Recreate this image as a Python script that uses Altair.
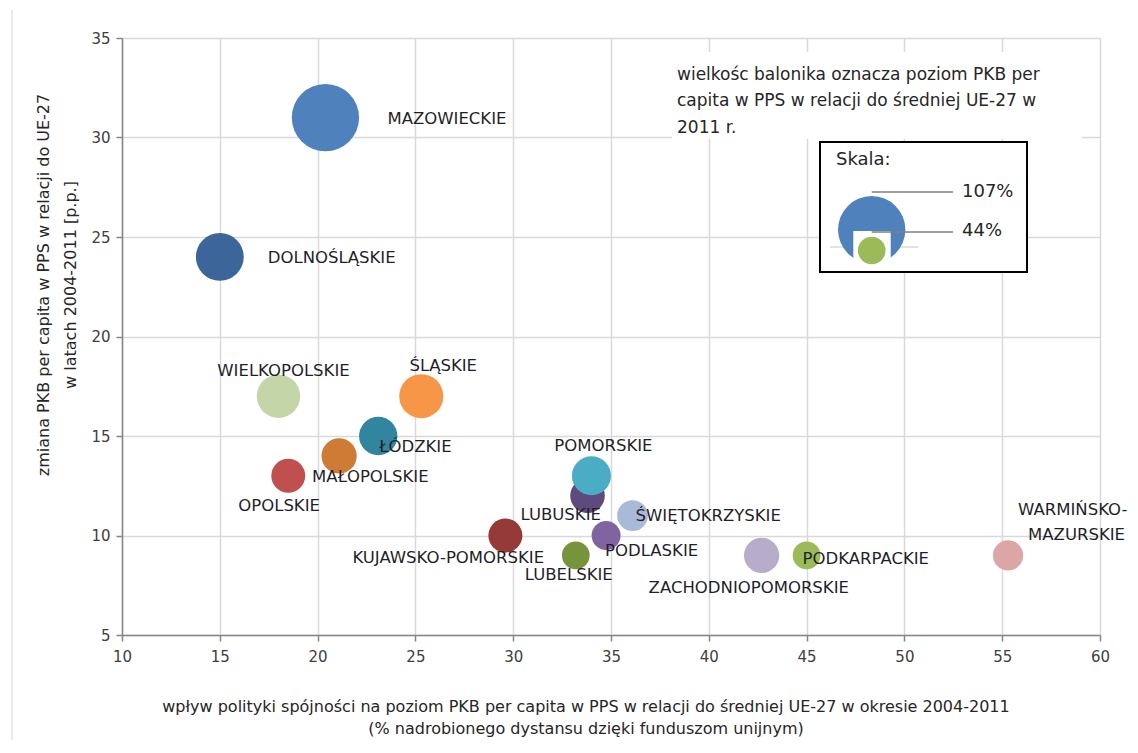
import math
import altair as alt
import pandas as pd

# ---------------- data ----------------
regions = ["MAZOWIECKIE", "DOLNOŚLĄSKIE", "WIELKOPOLSKIE", "ŚLĄSKIE", "ŁÓDZKIE",
           "MAŁOPOLSKIE", "OPOLSKIE", "KUJAWSKO-POMORSKIE", "LUBUSKIE", "POMORSKIE",
           "ŚWIĘTOKRZYSKIE", "PODLASKIE", "LUBELSKIE", "ZACHODNIOPOMORSKIE",
           "PODKARPACKIE", "WARMIŃSKO-MAZURSKIE"]
impact = [20.4, 15.0, 18.0, 25.3, 23.1, 21.1, 18.5, 29.6, 33.8, 34.0,
          36.1, 34.75, 33.2, 42.7, 45.0, 55.3]
change = [31, 24, 17, 17, 15, 14, 13, 10, 12, 13, 11, 10, 9, 9, 9, 9]
gdp = [107, 76, 69, 70, 61, 56, 54, 54, 55, 62, 49, 46, 44, 56, 44, 48]

x_ticks = [10, 15, 20, 25, 30, 35, 40, 45, 50, 55, 60]
y_ticks = [5, 10, 15, 20, 25, 30, 35]
scale_values = [107, 44]

note_lines = ["wielkośc balonika oznacza poziom PKB per",
              "capita w PPS w relacji do średniej  UE-27 w",
              "2011 r."]
y_title = ["zmiana PKB per capita w PPS w relacji do UE-27",
           "w latach 2004-2011 [p.p.]"]
x_title = ["wpływ polityki spójności na poziom PKB per capita w PPS w relacji do średniej UE-27 w okresie 2004-2011",
           "(% nadrobionego dystansu dzięki funduszom unijnym)"]

# ---------------- styles ----------------
colors = ["#4F81BD", "#3C6599", "#C4D6A8", "#F79646", "#31859C",
          "#CD7B35", "#C0504D", "#953A38", "#5F4A7E", "#4BACC6",
          "#A9BAD8", "#8064A2", "#77933C", "#B7ADCA", "#9BBB59", "#DBA6A5"]

# (region, text, align, dx, dy)
label_style = [
    ("MAZOWIECKIE", "MAZOWIECKIE", "left", 62, 1),
    ("DOLNOŚLĄSKIE", "DOLNOŚLĄSKIE", "left", 48, 1),
    ("WIELKOPOLSKIE", "WIELKOPOLSKIE", "center", 5, -25),
    ("ŚLĄSKIE", "ŚLĄSKIE", "center", 22, -30),
    ("ŁÓDZKIE", "ŁÓDZKIE", "left", 1, 11),
    ("MAŁOPOLSKIE", "MAŁOPOLSKIE", "left", -27, 21),
    ("OPOLSKIE", "OPOLSKIE", "left", -50, 30),
    ("KUJAWSKO-POMORSKIE", "KUJAWSKO-POMORSKIE", "left", -153, 22),
    ("LUBUSKIE", "LUBUSKIE", "left", -67, 19),
    ("POMORSKIE", "POMORSKIE", "center", 12, -30),
    ("ŚWIĘTOKRZYSKIE", "ŚWIĘTOKRZYSKIE", "left", 3, 0),
    ("PODLASKIE", "PODLASKIE", "left", -1, 15),
    ("LUBELSKIE", "LUBELSKIE", "left", -51, 20),
    ("ZACHODNIOPOMORSKIE", "ZACHODNIOPOMORSKIE", "left", -113, 33),
    ("PODKARPACKIE", "PODKARPACKIE", "left", -4, 4),
    ("WARMIŃSKO-MAZURSKIE", "WARMIŃSKO-", "left", 10, -45),
    ("WARMIŃSKO-MAZURSKIE", "MAZURSKIE", "left", 20, -20),
]

FONT = "DejaVu Sans"
W, H = 978, 597

df = pd.DataFrame({"region": regions, "impact": impact, "change": change,
                   "gdp": gdp, "idx": list(range(len(regions)))})
one = pd.DataFrame({"d": [0]})

xs = alt.Scale(domain=[10, 60], nice=False, zero=False)
ys = alt.Scale(domain=[5, 35], nice=False, zero=False)
size_scale = alt.Scale(type="pow", exponent=2, domain=[0, 107], range=[0, math.pi * 38 * 38])

axis_common = dict(tickSize=6, tickColor="#868686", domainColor="#868686", domainWidth=1.5,
                   tickWidth=1.5, gridColor="#D9D9D9", gridWidth=1.5, labelFont=FONT,
                   labelFontSize=15, labelColor="#404040", title=None)

xenc = alt.X("impact:Q", scale=xs,
             axis=alt.Axis(values=x_ticks, labelPadding=8, labelFlush=False, **axis_common))
yenc = alt.Y("change:Q", scale=ys,
             axis=alt.Axis(values=y_ticks, labelPadding=6, **axis_common))

bubbles = alt.Chart(df).mark_circle(opacity=1).encode(
    x=xenc, y=yenc,
    size=alt.Size("gdp:Q", scale=size_scale, legend=None),
    color=alt.Color("region:N", scale=alt.Scale(domain=regions, range=colors), legend=None),
    order=alt.Order("idx:Q"),
)

layers = [bubbles]

for region, text, align, dx, dy in label_style:
    layers.append(
        alt.Chart(df).transform_filter(alt.datum.region == region).mark_text(
            align=align, baseline="middle", dx=dx, dy=dy, font=FONT, fontSize=16.5,
            color="#1F1F2A"
        ).encode(x=alt.X("impact:Q", scale=xs), y=alt.Y("change:Q", scale=ys),
                 text=alt.value(text))
    )

# white box behind the note
layers.append(alt.Chart(one).mark_rect(fill="white").encode(
    x=alt.value(550), x2=alt.value(960), y=alt.value(14), y2=alt.value(101)))
for i, line in enumerate(note_lines):
    layers.append(alt.Chart(one).mark_text(
        align="left", baseline="middle", font=FONT, fontSize=17, color="#262626"
    ).encode(x=alt.value(555), y=alt.value(37 + 26.3 * i), text=alt.value(line)))

# scale legend box
layers.append(alt.Chart(one).mark_rect(fill="white", stroke="black", strokeWidth=2).encode(
    x=alt.value(698), x2=alt.value(905), y=alt.value(104), y2=alt.value(234)))
layers.append(alt.Chart(one).mark_text(
    align="left", baseline="middle", font=FONT, fontSize=18, color="#262626"
).encode(x=alt.value(714), y=alt.value(122), text=alt.value("Skala:")))
layers.append(alt.Chart(one).mark_rule(color="#D9D9D9", strokeWidth=1.5).encode(
    x=alt.value(708), x2=alt.value(796), y=alt.value(209)))
sc_df = pd.DataFrame({"gdp": scale_values})
layers.append(alt.Chart(sc_df).transform_filter(alt.datum.gdp == scale_values[0]).mark_circle(
    opacity=1, color="#4F81BD").encode(
    x=alt.value(749.7), y=alt.value(191.7),
    size=alt.Size("gdp:Q", scale=size_scale, legend=None)))
layers.append(alt.Chart(one).mark_rect(fill="white").encode(
    x=alt.value(731.3), x2=alt.value(768.7), y=alt.value(193), y2=alt.value(231)))
layers.append(alt.Chart(sc_df).transform_filter(alt.datum.gdp == scale_values[1]).mark_circle(
    opacity=1, color="#9BBB59").encode(
    x=alt.value(749.7), y=alt.value(212.5),
    size=alt.Size("gdp:Q", scale=size_scale, legend=None)))
for yy in (154, 194):
    layers.append(alt.Chart(one).mark_rule(color="#7F7F7F", strokeWidth=1.5).encode(
        x=alt.value(749.7), x2=alt.value(831), y=alt.value(yy)))
for yy, v in ((154, scale_values[0]), (193, scale_values[1])):
    layers.append(alt.Chart(one).mark_text(
        align="left", baseline="middle", font=FONT, fontSize=18, color="#262626"
    ).encode(x=alt.value(840), y=alt.value(yy), text=alt.value(f"{v}%")))

# axis titles
for i, line in enumerate(y_title):
    layers.append(alt.Chart(one).mark_text(
        align="center", baseline="middle", angle=270, font=FONT, fontSize=16, color="#262626"
    ).encode(x=alt.value(-78 + 27 * i), y=alt.value(247), text=alt.value(line)))
for i, line in enumerate(x_title):
    layers.append(alt.Chart(one).mark_text(
        align="center", baseline="middle", font=FONT, fontSize=16, color="#262626"
    ).encode(x=alt.value(464), y=alt.value(669 + 22 * i), text=alt.value(line)))

# faint outer chart border (left edge)
layers.append(alt.Chart(one).mark_rule(color="#E3E3E3", strokeWidth=1.5).encode(
    x=alt.value(-110), y=alt.value(-28), y2=alt.value(705)))

chart = alt.layer(*layers).properties(
    width=W, height=H,
    autosize=alt.AutoSizeParams(type="none"),
    padding={"left": 114, "top": 30, "right": 30, "bottom": 105},
).configure_view(stroke="#D9D9D9", strokeWidth=1.5).configure(background="white")

chart.save("out.html", embed_options={"renderer": "svg", "actions": False})
